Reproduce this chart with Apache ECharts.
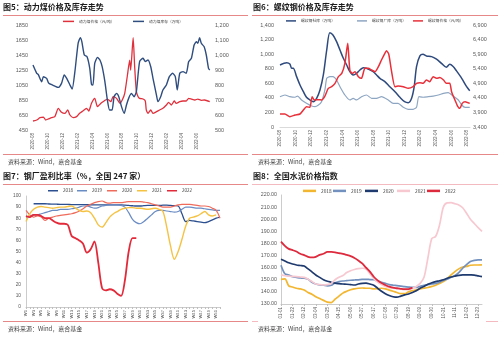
<!DOCTYPE html>
<html><head><meta charset="utf-8">
<script src="https://cdn.jsdelivr.net/npm/echarts@6/dist/echarts.min.js"></script>
<style>html,body{margin:0;padding:0;background:#fff}#c{width:500px;height:338px}</style>
</head><body><div id="c"></div>
<script>
// ---------- Panel 1: thermal coal price & inventory ----------
const coalPriceDates = ['2020-08-01','2020-08-16','2020-08-29','2020-09-13','2020-09-22','2020-10-03','2020-10-16','2020-10-29','2020-11-13','2020-11-26','2020-12-10','2020-12-21','2020-12-30','2021-01-13','2021-01-27','2021-02-09','2021-02-22','2021-03-07','2021-03-16','2021-03-27','2021-04-10','2021-04-21','2021-05-05','2021-05-18','2021-06-01','2021-06-15','2021-06-24','2021-07-08','2021-07-22','2021-07-31','2021-08-11','2021-08-22','2021-09-01','2021-09-05','2021-09-15','2021-09-21','2021-09-28','2021-10-05','2021-10-11','2021-10-25','2021-11-04','2021-11-08','2021-11-15','2021-11-26','2021-12-05','2021-12-19','2022-01-02','2022-01-15','2022-01-29','2022-02-08','2022-02-19','2022-03-01','2022-03-09','2022-03-23','2022-04-06','2022-04-19','2022-04-29','2022-05-10','2022-05-24','2022-06-06','2022-06-20','2022-07-03','2022-07-24'];
const coalPriceValues = [570,583,614,623,583,597,614,628,739,686,672,717,650,614,628,672,703,739,703,806,872,761,806,837,863,828,894,872,806,850,939,1183,1383,1250,1681,1300,961,894,872,863,837,717,672,717,672,694,717,739,783,819,783,837,806,828,837,837,872,863,850,863,846,850,828];
const coalStockDates = ['2020-08-01','2020-08-16','2020-08-22','2020-09-06','2020-09-13','2020-09-26','2020-10-05','2020-10-29','2020-11-13','2020-11-26','2020-12-07','2020-12-17','2020-12-30','2021-01-09','2021-01-20','2021-02-03','2021-02-12','2021-02-18','2021-02-28','2021-03-09','2021-03-20','2021-03-27','2021-04-03','2021-04-10','2021-04-21','2021-05-01','2021-05-10','2021-05-21','2021-06-01','2021-06-10','2021-06-20','2021-06-28','2021-07-08','2021-07-17','2021-07-28','2021-08-09','2021-08-18','2021-08-28','2021-09-08','2021-09-19','2021-09-28','2021-10-11','2021-10-25','2021-11-04','2021-11-15','2021-11-26','2021-12-05','2021-12-19','2021-12-25','2022-01-06','2022-01-15','2022-01-29','2022-02-11','2022-02-24','2022-03-05','2022-03-13','2022-03-23','2022-04-06','2022-04-19','2022-04-29','2022-05-10','2022-05-21','2022-05-30','2022-06-06','2022-06-13','2022-06-20','2022-07-01','2022-07-10','2022-07-19','2022-07-24'];
const coalStockValues = [933,878,871,822,855,844,811,793,784,811,867,844,800,773,889,1078,1116,1089,1000,989,911,804,800,944,984,967,922,822,700,633,633,722,744,722,656,611,667,716,744,722,756,956,978,956,967,922,844,733,689,722,767,800,856,878,856,767,878,889,878,956,978,1067,1089,1078,1116,1078,1056,1000,911,900];

// ---------- Panel 2: rebar price & inventory ----------
const rebarSocialDates = ['2020-08-01','2020-08-27','2020-09-09','2020-09-16','2020-09-22','2020-10-05','2020-10-18','2020-11-01','2020-11-13','2020-11-26','2020-12-09','2020-12-22','2021-01-05','2021-01-18','2021-01-31','2021-02-13','2021-02-25','2021-03-09','2021-03-22','2021-04-05','2021-04-18','2021-04-30','2021-05-13','2021-05-26','2021-06-09','2021-06-22','2021-07-04','2021-07-17','2021-07-30','2021-08-13','2021-08-26','2021-09-15','2021-10-04','2021-10-24','2021-11-13','2021-12-01','2021-12-15','2021-12-28','2022-01-08','2022-01-17','2022-01-30','2022-02-12','2022-02-25','2022-03-15','2022-04-04','2022-04-23','2022-05-12','2022-05-25','2022-06-08','2022-06-21','2022-07-11','2022-07-30','2022-08-12'];
const rebarSocialValues = [851,883,865,806,806,691,577,485,408,371,348,394,508,714,1057,1295,1263,1171,1057,943,851,759,714,737,783,814,806,783,759,714,668,622,553,485,408,348,334,394,553,828,975,998,975,966,930,874,820,860,830,770,668,553,499];
const rebarMillDates = ['2020-08-01','2020-08-20','2020-09-09','2020-09-29','2020-10-09','2020-10-24','2020-11-13','2020-12-03','2020-12-16','2020-12-29','2021-01-11','2021-01-24','2021-01-31','2021-02-13','2021-02-25','2021-03-09','2021-03-22','2021-04-11','2021-04-30','2021-05-13','2021-05-26','2021-06-15','2021-07-04','2021-07-24','2021-08-13','2021-09-02','2021-09-28','2021-10-17','2021-11-06','2021-11-26','2021-12-15','2022-01-04','2022-01-17','2022-01-26','2022-02-12','2022-03-02','2022-03-21','2022-04-11','2022-05-01','2022-05-19','2022-06-08','2022-06-28','2022-07-11','2022-07-24','2022-08-12'];
const rebarMillValues = [416,439,416,408,425,371,325,288,279,302,348,508,668,691,691,645,553,439,371,394,371,416,439,394,394,416,371,325,325,270,243,243,270,416,408,416,425,439,462,471,425,371,302,270,270];
const rebarPriceDates = ['2020-08-01','2020-08-20','2020-09-09','2020-09-29','2020-10-18','2020-11-01','2020-11-13','2020-11-26','2020-12-05','2020-12-13','2020-12-29','2021-01-11','2021-01-24','2021-02-07','2021-02-20','2021-03-03','2021-03-16','2021-03-29','2021-04-11','2021-04-22','2021-04-30','2021-05-09','2021-05-20','2021-06-03','2021-06-15','2021-06-28','2021-07-11','2021-07-24','2021-08-07','2021-08-20','2021-09-02','2021-09-15','2021-09-21','2021-09-30','2021-10-10','2021-10-24','2021-11-06','2021-11-26','2021-12-15','2022-01-04','2022-01-17','2022-01-30','2022-02-12','2022-02-25','2022-03-08','2022-03-21','2022-04-04','2022-04-17','2022-05-01','2022-05-12','2022-05-25','2022-06-02','2022-06-15','2022-06-25','2022-07-04','2022-07-13','2022-07-24','2022-08-12'];
const rebarPriceValues = [3846,3846,3753,3812,3846,3983,4097,4074,4440,4326,4337,4326,4463,4726,4783,4898,5126,5240,5583,6270,5355,5240,5297,5126,5069,5412,5412,5355,5297,5469,5698,5926,6018,5897,5355,4783,4806,4783,4726,4783,4898,4921,4898,5012,4955,5126,5069,5097,5012,4898,4898,4612,4326,4120,4040,4212,4269,4212];

// ---------- Panel 3: steel mill profitability (%) ----------
const weeks = ['W1','W2','W3','W4','W5','W6','W7','W8','W9','W10','W11','W12','W13','W14','W15','W16','W17','W18','W19','W20','W21','W22','W23','W24','W25','W26','W27','W28','W29','W30','W31','W32','W33','W34','W35','W36','W37','W38','W39','W40','W41','W42','W43','W44','W45','W46','W47','W48','W49','W50','W51','W52'];
const profit2018 = [null,null,93,93,93,93,92.8,92.7,92.6,92.5,92.5,92.4,92.3,92.3,92.2,92.2,92.2,92.1,92,92,92,92,92,92,92,92,91.8,91.5,91.2,91,91,91.3,91.5,91.5,91.5,91.5,91.7,91.8,91.5,91.3,91,84,77,78,77.5,77,76.5,76,77,78.5,80,81];
const profit2019 = [81,82,83,83,84,85,86,87,87,88,88,88,88.5,89,90,91,91,90,89,89.5,91,91.5,92,92,92,91.5,90,85,79,76,75,77,80,83,86,87,87,86.5,86,85.5,86,88,90,90,89.5,89,89,88.5,88,87.5,87,87];
const profit2020 = [87,83,81,82,81,78,80,81,82,82.5,83,83.5,84,85,86.5,88.5,91,92.5,94,95,95.5,94,93.5,94,94,94,94.5,95,95,95,95,94.5,94,93,92,91,90,90,90,91,92,92.5,92.5,92.5,92,91.5,91,91,90.5,89,87,80];
const profit2021 = [77,84,88,90,90.5,90,89.5,89,89.5,90,90,90.5,91,89,87,86,86.5,85,80,74,72,76,81,84,86,88,89,89.5,89.5,89,89,88.5,88,88.5,89,88,86,72,55,43,50,61,73,80,81,82,84,86,83,82,83,null];
const profit2022 = [82,81,83,83,82,80,80,78,76,75,75,74,64,62,60,57,49,52,59,40,17,15,16,15,12,10,24,50,62,62,null,null,null,null,null,null,null,null,null,null,null,null,null,null,null,null,null,null,null,null,null,null];

// ---------- Panel 4: national cement price index ----------
const cementDates = ['01-01','01-08','01-15','01-22','01-29','02-05','02-12','02-19','02-26','03-04','03-11','03-18','03-25','04-01','04-08','04-15','04-22','04-29','05-06','05-13','05-20','05-27','06-03','06-10','06-17','06-24','07-01','07-08','07-15','07-22','07-29','08-05','08-12','08-19','08-26','09-02','09-09','09-16','09-23','09-30','10-07','10-14','10-21','10-28','11-04','11-11','11-18','11-25','12-02','12-09','12-16','12-23','12-30'];
const cement2018 = [150.4,150.7,145,144,143,142.5,141.5,139.5,138,136,134.5,133,131.5,131.2,134,136.5,139,140.5,141.8,142.5,143,143.2,143,143,142.5,142.6,143,142.5,141.5,140.5,139.5,138.5,138.5,140,141,141.6,142.5,143,143.6,144.5,145.5,147,148.5,151,154,156.7,159,160.5,161,162,162.2,162.2,162.3];
const cement2019 = [162,155,154,152.5,152,151.5,151.3,150.5,148,146.5,145.8,145.5,145,145.5,147.5,148.5,149,149.3,149.6,149.8,150,150.3,150.4,150.2,150,149,148,147,146,145.5,145.2,144.8,144.3,144,143.8,143.8,144.5,145.5,146,146.5,147,148,149.5,150.5,152,153.5,156,159.5,162.5,165,166,166.4,166.4];
const cement2020 = [166.9,165.5,164,163,162.2,161.8,161.3,159,156.5,154,152,150,148.8,148,147.2,146.8,146.5,146.3,146,145.7,146.5,147,147.2,146.5,145.5,143,140.5,138.5,137,136,135.6,136.5,137.5,138.3,139.5,141,143,144.5,146.3,147.5,148.5,149.2,150,151.3,152.3,153,153.6,154,154.1,154,153.8,153.2,152.6];
const cement2021 = [154,153.3,153,152.8,152.6,152.3,152,150.5,148.5,146.5,146,145.7,146,147,150,152,153.5,156,157.5,158.5,159.2,159.5,158.8,155,151,148,146,144.5,143.5,143,142.6,142.4,141.8,141.8,143,144.5,147,152,168,184,185.7,195,210,213.5,213.7,212.8,211.8,209.5,205,200,196.5,193,190];
const cement2022 = [181.5,178,175.5,174.5,173.3,171.5,170.3,169,168.5,169,170.5,171.5,173,173,172.7,172,171.4,170.5,169.5,168,166,163.5,160,156.7,152.5,149.5,147.3,145.7,144.3,143.5,143,142.5,142.2,142.3,143.5];

const F = '"Noto Sans CJK SC","Noto Sans",sans-serif';
const FL = '"Liberation Sans",Arial,sans-serif';
const LBL = '#595959';
function mo(d){const p=d.split('-').map(Number);return (p[0]-2020)*12+(p[1]-8)+(p[2]-1)/30;}
function pairs(ds,vs){return ds.map((d,i)=>[mo(d),vs[i]]);}
function monthLabel(v){const r=Math.round(v);if(Math.abs(v-r)>1e-6||r%2)return '';const t=7+r;const y=2020+Math.floor(t/12);const m=t%12+1;return y+'-'+(m<10?'0':'')+m;}
function comma(v){return String(v).replace(/\B(?=(\d{3})+(?!\d))/g,',');}

const chart = echarts.init(document.getElementById('c'), null, {renderer:'canvas'});

function xVal(gi,max){return {gridIndex:gi,type:'value',min:0,max:max,interval:2,splitLine:{show:false},axisTick:{show:false},
  axisLine:{show:gi===1,lineStyle:{color:'#d0d0d0',width:0.8}},
  axisLabel:{rotate:90,fontSize:4.5,color:LBL,fontFamily:FL,margin:3,formatter:monthLabel}};}
function yBase(gi,o){return Object.assign({gridIndex:gi,type:'value',splitLine:{show:false},axisTick:{show:false},axisLine:{show:false}},o);}

function legendItem(name,left,top,color,w,h,fs){
  return {data:[name],left:left,top:top,padding:0,itemGap:0,icon:'rect',itemWidth:w,itemHeight:h,selectedMode:false,
    textStyle:{fontSize:fs,color:'#404040',fontFamily:F},formatter:n=>n.trim()};
}
function line(name,xi,yi,data,color,width,smooth){
  return {name:name,type:'line',xAxisIndex:xi,yAxisIndex:yi,data:data,showSymbol:false,smooth:smooth,connectNulls:false,
    lineStyle:{color:color,width:width},itemStyle:{color:color},emphasis:{disabled:true}};
}

const C = {
  coalP:'#e0303c', coalS:'#2f4d7e',
  rS:'#2e4a7d', rM:'#8ea6c2', rP:'#e8303a',
  p18:'#2c4f8f', p19:'#6a8cc4', p20:'#ef6b5b', p21:'#f5c242', p22:'#e22a3a',
  c18:'#f2b631', c19:'#7391bf', c20:'#1e3a6e', c21:'#f7c8d0', c22:'#dd2a3d'
};

const option = {
  animation:false,
  backgroundColor:'#ffffff',
  grid:[
    {left:33,top:25,width:177,height:105},
    {left:280,top:25,width:190,height:102},
    {left:26,top:196,width:194,height:111},
    {left:281,top:195,width:201,height:109}
  ],
  xAxis:[
    xVal(0,23.8),
    xVal(1,24.4),
    {gridIndex:2,type:'category',data:weeks,boundaryGap:false,
      axisLine:{lineStyle:{color:'#bfbfbf',width:0.8}},axisTick:{show:true,interval:0,length:2,lineStyle:{color:'#bfbfbf'}},
      axisLabel:{interval:1,rotate:90,fontSize:4.2,color:LBL,fontFamily:FL,margin:3}},
    {gridIndex:3,type:'category',data:cementDates,boundaryGap:false,
      axisLine:{lineStyle:{color:'#bfbfbf',width:0.8}},axisTick:{show:true,interval:2,length:2,lineStyle:{color:'#bfbfbf'}},
      axisLabel:{interval:2,rotate:90,fontSize:4.5,color:LBL,fontFamily:FL,margin:3}}
  ],
  yAxis:[
    yBase(0,{min:450,max:1850,interval:50,axisLabel:{fontSize:5.5,color:LBL,fontFamily:FL,margin:5,formatter:v=>((v-450)%200===0?String(v):'')}}),
    yBase(0,{position:'right',min:500,max:1200,interval:100,axisLabel:{fontSize:5.5,color:LBL,fontFamily:FL,margin:5,formatter:comma}}),
    yBase(1,{min:0,max:1400,interval:200,axisLabel:{fontSize:5.5,color:LBL,fontFamily:FL,margin:6,formatter:comma}}),
    yBase(1,{position:'right',min:3400,max:6900,interval:100,axisLabel:{fontSize:5.5,color:LBL,fontFamily:FL,margin:3,formatter:v=>((v-3400)%500===0?comma(v):'')}}),
    yBase(2,{min:0,max:100,interval:10,axisLine:{show:true,lineStyle:{color:'#bfbfbf',width:0.8}},axisLabel:{fontSize:4.8,color:LBL,fontFamily:FL,margin:5}}),
    yBase(3,{min:130,max:220,interval:10,axisLine:{show:true,lineStyle:{color:'#bfbfbf',width:0.8}},axisLabel:{fontSize:5.3,color:LBL,fontFamily:FL,margin:4,formatter:v=>v.toFixed(2)}})
  ],
  legend:[
    legendItem('动力煤价格（元/吨）',63,19.5,C.coalP,11,1.5,3.8),
    legendItem('动力煤库存（万吨）',133,19.5,C.coalS,11,1.5,3.8),
    legendItem('螺纹钢社库（万吨）',286,19,C.rS,10,1.5,3.8),
    legendItem('螺纹钢厂库（万吨）',357,19,C.rM,10,1.5,3.8),
    legendItem('螺纹钢价格（元/吨）',413,19,C.rP,10,1.5,3.8),
    legendItem('2018',48,188.5,C.p18,10,1.5,4.5),
    legendItem('2019',77,188.5,C.p19,10,1.5,4.5),
    legendItem('2020',107,188.5,C.p20,10,1.5,4.5),
    legendItem('2021',137,188.5,C.p21,10,1.5,4.5),
    legendItem('2022',167,188.5,C.p22,10,1.5,4.5),
    legendItem('2018 ',303,188.5,C.c18,13,2.5,4.8),
    legendItem('2019 ',333,188.5,C.c19,13,2.5,4.8),
    legendItem('2020 ',365,188.5,C.c20,13,2.5,4.8),
    legendItem('2021 ',397,188.5,C.c21,13,2.5,4.8),
    legendItem('2022 ',427,188.5,C.c22,13,2.5,4.8)
  ],
  series:[
    line('动力煤价格（元/吨）',0,0,pairs(coalPriceDates,coalPriceValues),C.coalP,1.3,0.2),
    line('动力煤库存（万吨）',0,1,pairs(coalStockDates,coalStockValues),C.coalS,1.4,0.2),
    line('螺纹钢社库（万吨）',1,2,pairs(rebarSocialDates,rebarSocialValues),C.rS,1.5,0.3),
    line('螺纹钢厂库（万吨）',1,2,pairs(rebarMillDates,rebarMillValues),C.rM,1.2,0.2),
    line('螺纹钢价格（元/吨）',1,3,pairs(rebarPriceDates,rebarPriceValues),C.rP,1.5,0.2),
    line('2018',2,4,profit2018,C.p18,1.3,0.3),
    line('2019',2,4,profit2019,C.p19,1.2,0.3),
    line('2020',2,4,profit2020,C.p20,1.2,0.3),
    line('2021',2,4,profit2021,C.p21,1.4,0.3),
    line('2022',2,4,profit2022,C.p22,1.8,0.3),
    line('2018 ',3,5,cement2018,C.c18,1.7,0.3),
    line('2019 ',3,5,cement2019,C.c19,1.7,0.3),
    line('2020 ',3,5,cement2020,C.c20,1.7,0.3),
    line('2021 ',3,5,cement2021,C.c21,1.7,0.3),
    line('2022 ',3,5,cement2022,C.c22,1.8,0.3)
  ],
  graphic:[
    {type:'text',left:3,top:3,style:{text:'图5：动力煤价格及库存走势',font:'bold 8px '+F,fill:'#1a1a1a'}},
    {type:'text',left:253,top:3,style:{text:'图6：螺纹钢价格及库存走势',font:'bold 8px '+F,fill:'#1a1a1a'}},
    {type:'text',left:3,top:171.5,style:{text:'图7：钢厂盈利比率（%，全国 247 家）',font:'bold 8px '+F,fill:'#1a1a1a'}},
    {type:'text',left:253,top:171.5,style:{text:'图8：全国水泥价格指数',font:'bold 8px '+F,fill:'#1a1a1a'}},
    {type:'line',shape:{x1:3,y1:15.5,x2:248,y2:15.5},style:{stroke:'#e06a6a',lineWidth:0.8}},
    {type:'line',shape:{x1:252,y1:15.5,x2:498,y2:15.5},style:{stroke:'#e06a6a',lineWidth:0.8}},
    {type:'line',shape:{x1:3,y1:184.5,x2:248,y2:184.5},style:{stroke:'#e06a6a',lineWidth:0.8}},
    {type:'line',shape:{x1:252,y1:184.5,x2:498,y2:184.5},style:{stroke:'#f0a8ae',lineWidth:0.8}},
    {type:'line',shape:{x1:3,y1:154.5,x2:248,y2:154.5},style:{stroke:'#e06a6a',lineWidth:0.8}},
    {type:'line',shape:{x1:252,y1:154.5,x2:498,y2:154.5},style:{stroke:'#e06a6a',lineWidth:0.8}},
    {type:'line',shape:{x1:3,y1:321.5,x2:248,y2:321.5},style:{stroke:'#e06a6a',lineWidth:0.8}},
    {type:'line',shape:{x1:252,y1:321.5,x2:258,y2:321.5},style:{stroke:'#f0a8ae',lineWidth:0.8}},
    {type:'line',shape:{x1:486,y1:321.5,x2:498,y2:321.5},style:{stroke:'#f0a8ae',lineWidth:0.8}},
    {type:'text',left:8,top:159,style:{text:'资料来源：Wind，嘉合基金',font:'6px '+F,fill:'#404040'}},
    {type:'text',left:258,top:159,style:{text:'资料来源：Wind，嘉合基金',font:'6px '+F,fill:'#404040'}},
    {type:'text',left:8,top:326,style:{text:'资料来源：Wind，嘉合基金',font:'6px '+F,fill:'#404040'}},
    {type:'text',left:258,top:326,style:{text:'资料来源：Wind，嘉合基金',font:'6px '+F,fill:'#404040'}}
  ]
};
chart.setOption(option);
</script></body></html>
